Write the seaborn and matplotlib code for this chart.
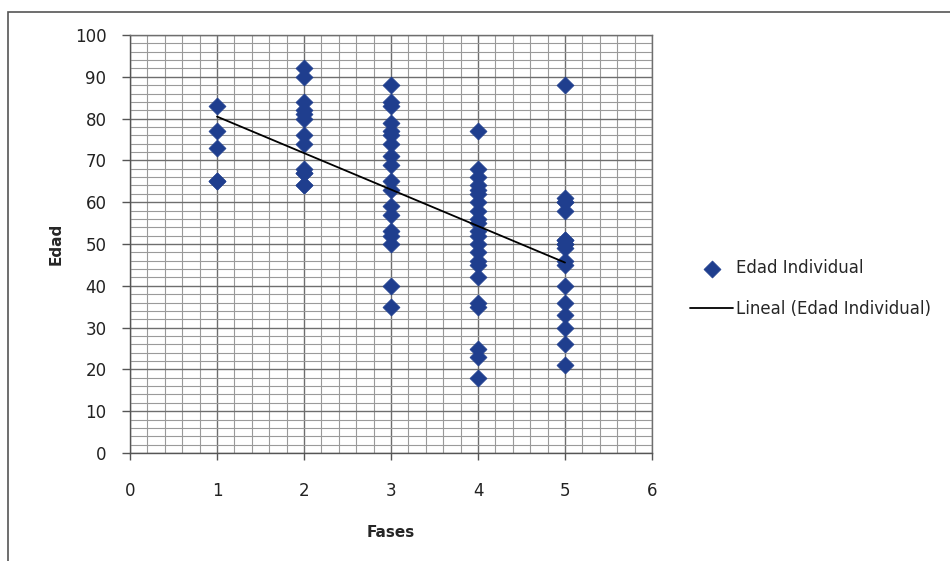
import numpy as np
import pandas as pd
import matplotlib
matplotlib.use("Agg")
import matplotlib.pyplot as plt
from matplotlib.patches import Rectangle
from matplotlib.ticker import MultipleLocator
import seaborn as sns

# edades leidas por fase (algunos puntos se solapan)
fase1 = [83, 77, 73, 65, 65]
fase2 = [92, 90, 84, 82, 81, 80, 76, 74, 68, 67, 67, 64, 64]
fase3 = [88, 84, 83, 79, 77, 76, 74, 71, 69, 65, 63, 59, 57, 53, 52, 50, 40, 35]
fase4 = [77, 68, 66, 64, 63, 62, 60, 58, 56, 55, 53, 52, 50, 48, 46, 45, 42, 36, 35, 25, 23, 18]
fase5 = [88, 61, 60, 60, 58, 51, 51, 50, 50, 49, 46, 45, 40, 36, 33, 30, 26, 21]

x_ticks = [0, 1, 2, 3, 4, 5, 6]
y_ticks = [0, 10, 20, 30, 40, 50, 60, 70, 80, 90, 100]

fases = [fase1, fase2, fase3, fase4, fase5]
df = pd.DataFrame({
    "Fases": [i + 1 for i, f in enumerate(fases) for _ in f],
    "Edad": [v for f in fases for v in f],
})

sns.set_style("white")
plt.rcParams["font.family"] = ["DejaVu Sans"]

fig = plt.figure(figsize=(9.5, 5.61), dpi=100)
ax = fig.add_axes([130 / 950, 1 - 453 / 561, (652 - 130) / 950, (453 - 35) / 561])

# cuadricula
ax.xaxis.set_major_locator(MultipleLocator(1))
ax.xaxis.set_minor_locator(MultipleLocator(0.2))
ax.yaxis.set_major_locator(MultipleLocator(10))
ax.yaxis.set_minor_locator(MultipleLocator(2))
ax.grid(which="major", color="#6e6e6e", linewidth=1.0)
ax.grid(which="minor", color="#9a9a9a", linewidth=0.8)
ax.set_axisbelow(True)

ax.set_xlim(0, 6)
ax.set_ylim(0, 100)

sns.scatterplot(data=df, x="Fases", y="Edad", ax=ax, marker="D", s=75,
                color="#1f3e8e", edgecolor="#1f3e8e", linewidth=0.5,
                label="Edad Individual", zorder=3)
sns.regplot(data=df, x="Fases", y="Edad", ax=ax, scatter=False, ci=None,
            truncate=True, color="black", label="Lineal (Edad Individual)",
            line_kws={"linewidth": 1.3, "zorder": 4})

ax.set_xticks(x_ticks)
ax.set_yticks(y_ticks)
ax.tick_params(axis="y", which="major", direction="out", length=6, width=1,
               color="#555555", labelsize=12, labelcolor="#222222", pad=11, left=True)
ax.tick_params(axis="x", which="major", direction="out", length=5, width=1,
               color="#555555", labelsize=12, labelcolor="#222222", pad=16, bottom=True)
ax.tick_params(which="minor", length=0)

for s in ax.spines.values():
    s.set_color("#6e6e6e")
    s.set_linewidth(1.0)
ax.spines["left"].set_color("#555555")
ax.spines["bottom"].set_color("#555555")

ax.set_xlabel("Fases", fontsize=11, fontweight="bold", labelpad=18)
ax.set_ylabel("Edad", fontsize=11, fontweight="bold", labelpad=8)

leg = ax.legend(loc="center left", bbox_to_anchor=(1.044, 0.394), frameon=False,
                fontsize=12, handlelength=2.6, handletextpad=0.15, labelspacing=1.35)

# borde del area del grafico
fig.patches.append(Rectangle((8 / 950, -0.1), 1.0, 1 - 12 / 561 + 0.1,
                             transform=fig.transFigure, fill=False,
                             edgecolor="#555555", linewidth=1.2))

fig.savefig("out.png", dpi=100)
